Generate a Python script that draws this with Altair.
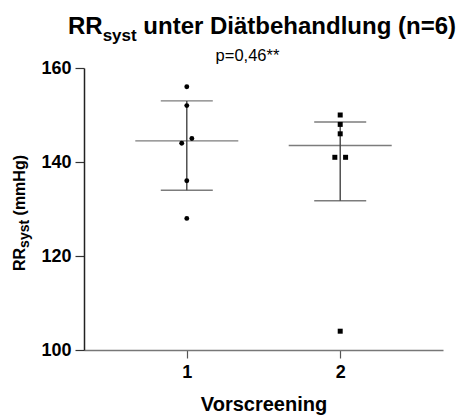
import altair as alt
import numpy as np
import pandas as pd

# Systolic blood pressure (mmHg) per screening visit
groups = [1, 2]
values_1 = [156, 152, 145, 144, 136, 128]
values_2 = [150, 148, 146, 141, 141, 104]
jitter_1 = [0, 0, 0.033, -0.033, 0, 0]
jitter_2 = [0, 0, 0, -0.035, 0.035, 0]
x_ticks = [1, 2]
y_ticks = [100, 120, 140, 160]

title_main = "RR"
title_sub = "syst"
title_rest = "unter Diätbehandlung (n=6)"
subtitle = "p=0,46**"
ytitle_main = "RR"
ytitle_sub = "syst"
ytitle_rest = "(mmHg)"
xtitle = "Vorscreening"

FONT = "Liberation Sans"
SPACE = 0.278  # width of a space in em

points = pd.DataFrame({
    "group": [1] * len(values_1) + [2] * len(values_2),
    "value": values_1 + values_2,
    "jit": jitter_1 + jitter_2,
    "shape": ["circle"] * len(values_1) + ["square"] * len(values_2),
})
points["xpos"] = points["group"] + points["jit"]

# median with interquartile range (quartiles at p*(n+1))
stats = pd.DataFrame({
    "group": groups,
    "median": [np.median(v) for v in (values_1, values_2)],
    "q1": [np.percentile(v, 25, method="weibull") for v in (values_1, values_2)],
    "q3": [np.percentile(v, 75, method="weibull") for v in (values_1, values_2)],
})

xscale = alt.Scale(domain=[0.33, 2.67], nice=False, zero=False)
yscale = alt.Scale(domain=[100, 160], nice=False, zero=False)

x_axis = alt.Axis(values=x_ticks, format="d", grid=False, title=xtitle,
                  labelFont=FONT, labelFontSize=18, labelFontWeight="bold",
                  labelColor="black", labelPadding=5, tickSize=8, tickColor="#555",
                  tickWidth=1.2, domainColor="#777", domainWidth=1.5,
                  titleFont=FONT, titleFontSize=20, titleFontWeight="bold",
                  titleColor="black", titlePadding=13)
y_axis = alt.Axis(values=y_ticks, grid=False, title="",
                  labelFont=FONT, labelFontSize=18, labelFontWeight="bold",
                  labelColor="black", labelPadding=4, tickSize=9, tickColor="#333",
                  tickWidth=1.2, domainColor="#222", domainWidth=1.5)

base_pts = alt.Chart(points)
circles = base_pts.transform_filter(alt.datum.shape == "circle").mark_point(
    shape="circle", filled=True, size=24, color="black", opacity=1
).encode(
    x=alt.X("xpos:Q", scale=xscale, axis=x_axis),
    y=alt.Y("value:Q", scale=yscale, axis=y_axis),
)
squares = base_pts.transform_filter(alt.datum.shape == "square").mark_point(
    shape="square", filled=True, size=25, color="black", opacity=1
).encode(x=alt.X("xpos:Q", scale=xscale), y=alt.Y("value:Q", scale=yscale))

base_st = alt.Chart(stats)
line_color = "#444"
median_tick = base_st.mark_tick(orient="horizontal", size=103, thickness=1.4,
                                color=line_color).encode(
    x=alt.X("group:Q", scale=xscale), y=alt.Y("median:Q", scale=yscale))
q1_tick = base_st.mark_tick(orient="horizontal", size=52, thickness=1.4,
                            color=line_color).encode(
    x=alt.X("group:Q", scale=xscale), y=alt.Y("q1:Q", scale=yscale))
q3_tick = base_st.mark_tick(orient="horizontal", size=52, thickness=1.4,
                            color=line_color).encode(
    x=alt.X("group:Q", scale=xscale), y=alt.Y("q3:Q", scale=yscale))
iqr_rule = base_st.mark_rule(strokeWidth=1.4, color=line_color).encode(
    x=alt.X("group:Q", scale=xscale), y=alt.Y("q1:Q", scale=yscale), y2="q3:Q")


def label(text, x, y, size, weight="bold", angle=0, align="left"):
    return alt.Chart(pd.DataFrame({"t": [text]})).mark_text(
        font=FONT, fontSize=size, fontWeight=weight, color="black",
        align=align, baseline="alphabetic", angle=angle
    ).encode(text="t:N", x=alt.value(x), y=alt.value(y))


F, S = 24, 17
tx0 = -16
titles = [
    label(title_main, tx0, -34.5, F),
    label(title_sub, tx0 + 1.444 * F, -27, S),
    label(title_rest, tx0 + 1.444 * F + 2.0 * S + SPACE * F, -34.5, F),
    label(subtitle, 163.5, -7.5, 16.5, weight="normal", align="center"),
]
YF, YS = 16, 14
ys0 = 203
ytitles = [
    label(ytitle_main, -59, ys0, YF, angle=270),
    label(ytitle_sub, -55, ys0 - 1.444 * YF, YS, angle=270),
    label(ytitle_rest, -59, ys0 - 1.444 * YF - 2.0 * YS - SPACE * YF, YF, angle=270),
]

chart = alt.layer(
    iqr_rule, median_tick, q1_tick, q3_tick, circles, squares, *titles, *ytitles
).properties(
    width=359, height=282,
    autosize=alt.AutoSizeParams(type="none"),
    padding={"left": 84, "top": 68, "right": 20, "bottom": 67},
    background="white",
).configure_view(stroke=None)

chart.save("out.html", embed_options={"renderer": "svg", "actions": False})
